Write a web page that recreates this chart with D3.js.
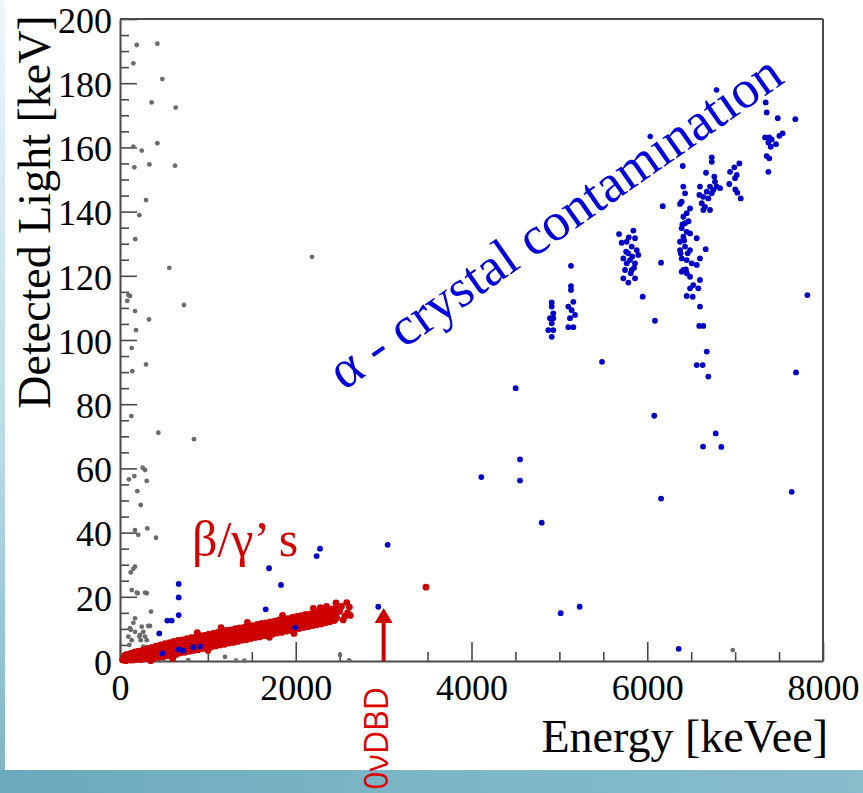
<!DOCTYPE html>
<html><head><meta charset="utf-8">
<script src="https://cdn.jsdelivr.net/npm/d3@7"></script>
<style>html,body{margin:0;padding:0;background:#fff;overflow:hidden}
.serif{font-family:"Liberation Serif","DejaVu Serif","Times New Roman",serif;}
.sans{font-family:"Open Sans","Noto Sans",sans-serif;}
</style>
</head><body>
<svg id="chart" width="863" height="793"></svg>
<script>
// ---- data ----
const xMajorTicks = [0, 2000, 4000, 6000, 8000];
const yMajorTicks = [0, 20, 40, 60, 80, 100, 120, 140, 160, 180, 200];
const xTitle = "Energy [keVee]";
const yTitle = "Detected Light [keV]";
const alphaLabel = "α - crystal contamination";
const betaLabel = "β/γ’ s";
const qLabel = "0νDBD";
const qValue = 3000;

const grayPts = [
[190,191.9],[425,192.3],[152,186.2],[482,181.3],[360,174.0],[634,172.4],[425,161.3],[152,160.2],[247,159.0],[163,153.8],[334,154.7],[626,154.3],[296,143.6],[220,138.9],[174,131.4],[561,122.5],[95,114.0],[114,113.7],[83,112.2],[728,110.9],[171,109.0],[330,106.4],[182,103.1],[133,97.5],[296,92.4],[140,90.3],[129,76.3],[436,71.1],[842,69.1],[258,60.2],[285,59.5],[163,57.6],[102,56.6],[304,56.1],[197,52.9],[236,48.6],[171,40.8],[208,39.3],[311,41.3],[410,38.4],[152,28.7],[122,27.6],[171,29.4],[133,22.1],[201,21.1],[285,21.3],[190,21.3],[304,21.1],[353,15.4],[152,11.9],[122,9.7],[171,9.1],[247,10.7],[265,9.1],[220,7.6],[285,7.6],[341,10.9],[95,7.6],[133,6.5],[236,6.5],[106,5.0],[114,10.2],[171,13.3],[322,10.9],[228,8.1],[304,6.5],[265,4.5],[190,2.9],[455,0.2],[493,0.3],[777,0.3],[1195,1.3],[1320,0.1],[1415,0.1],[2504,1.9],[2609,0.2],[6973,3.4],[2185,125.9]
];

const redPts = [
[30,0.3],[45,0.9],[52,1.6],[70,0.2],[85,1.1],[92,2.0],[110,0.4],[125,1.3],[132,2.4],[150,0.3],[165,1.6],[172,2.8],
[190,0.5],[205,1.8],[212,3.1],[240,0.4],[255,2.1],[262,3.4],[290,0.8],[305,2.2],[312,3.9],[340,0.6],[355,2.6],[362,4.2],
[390,1.0],[405,2.9],[412,4.6],[440,1.1],[455,3.2],[462,5.0],[490,1.4],[505,3.3],[512,5.4],[540,1.6],[555,3.8],[562,5.7],
[590,1.9],[605,4.0],[612,6.1],[640,2.0],[655,4.3],[662,6.4],[690,2.5],[705,4.6],[712,6.6],[740,2.7],[755,4.9],[762,7.0],
[790,3.0],[805,5.0],[812,7.3],[840,3.3],[855,5.5],[862,7.5],[890,3.5],[905,5.6],[912,7.9],[940,3.9],[955,6.0],[962,8.0],
[990,4.1],[1005,6.3],[1012,8.4],[1040,4.4],[1055,6.5],[1062,8.6],[1090,4.7],[1105,6.8],[1112,8.9],[1140,5.0],[1155,7.1],[1162,9.2],
[1190,5.2],[1205,7.4],[1212,9.5],[1240,5.6],[1255,7.6],[1262,9.7],[1290,5.8],[1305,8.0],[1312,10.1],[1340,6.1],[1355,8.2],[1362,10.3],
[1390,6.5],[1405,8.5],[1412,10.5],[1440,6.6],[1455,8.8],[1462,10.9],[1490,7.0],[1505,9.1],[1512,11.0],[1540,7.3],[1555,9.3],[1562,11.4],
[1590,7.5],[1605,9.6],[1612,11.7],[1640,7.9],[1655,9.9],[1662,11.9],[1690,8.1],[1705,10.2],[1712,12.2],[1740,8.4],[1755,10.5],[1762,12.4],
[1790,8.7],[1805,10.7],[1812,12.8],[1840,8.9],[1855,11.0],[1862,13.1],[1890,9.3],[1905,11.3],[1912,13.2],[1940,9.5],[1955,11.6],[1962,13.6],
[1990,9.8],[2005,11.9],[2012,13.9],[2040,10.1],[2055,12.1],[2062,14.1],[2090,10.4],[2105,12.4],[2112,14.5],[2140,10.7],[2155,12.7],[2162,14.6],
[2190,11.0],[2205,13.0],[2212,15.0],[2240,11.3],[2255,13.2],[2262,15.3],[2290,11.5],[2305,13.5],[2312,15.5],[2340,11.9],[2355,13.8],[2362,15.9],
[2390,12.2],[2405,14.1],[2412,16.2],[2440,12.6],[2455,14.5],[2462,16.4],
[65,0.1],[68,2.0],[115,0.3],[118,2.3],[165,0.5],[168,2.7],[215,0.8],[218,2.9],[265,1.1],[268,3.2],[315,1.3],[318,3.5],
[365,1.6],[368,3.8],[415,1.9],[418,4.0],[465,2.2],[468,4.3],[515,2.5],[518,4.6],[565,2.8],[568,4.9],[615,3.0],[618,5.1],
[665,3.3],[668,5.4],[715,3.6],[718,5.7],[765,3.9],[768,6.0],[815,4.2],[818,6.3],[865,4.4],[868,6.5],[915,4.7],[918,6.8],
[965,5.0],[968,7.1],[1015,5.3],[1018,7.4],[1065,5.6],[1068,7.7],[1115,5.8],[1118,7.9],[1165,6.1],[1168,8.2],[1215,6.4],[1218,8.5],
[1265,6.7],[1268,8.8],[1315,7.0],[1318,9.1],[1365,7.2],[1368,9.3],[1415,7.5],[1418,9.6],[1465,7.8],[1468,9.9],[1515,8.1],[1518,10.2],
[1565,8.4],[1568,10.5],[1615,8.6],[1618,10.7],[1665,8.9],[1668,11.0],[1715,9.2],[1718,11.3],[1765,9.5],[1768,11.6],[1815,9.8],[1818,11.9],
[1865,10.0],[1868,12.1],[1915,10.3],[1918,12.4],[1965,10.6],[1968,12.7],[2015,10.9],[2018,13.0],[2065,11.2],[2068,13.3],[2115,11.4],[2118,13.5],
[2165,11.7],[2168,13.8],[2215,12.0],[2218,14.1],[2265,12.3],[2268,14.4],[2315,12.6],[2318,14.7],[2365,12.8],[2368,14.9],[2415,13.1],[2418,15.2],
[2465,13.4],[2468,15.5],
[2458,18.1],[2580,18.2],[2610,16.8],[2590,15.0],[2620,14.2],[2560,14.0],[2500,15.5],[2520,17.0],[2540,12.8],[3482,23.0],
[1150,10.4],[1700,7.4],[2200,16.4],[880,8.8],[1450,12.0],[1980,8.6],[600,0.8],[350,0.1],[1000,3.3],[2350,17.0],[2280,16.6],[1850,14.2]
];

const bluePts = [
[7348,174.0],[7359,170.9],[7485,169.1],[7685,168.8],[7541,164.4],[7503,163.6],[7340,163.1],[7389,163.1],[7416,162.5],[7378,161.5],[7465,161.0],[7405,160.2],[7359,157.3],[7389,156.6],[7378,152.4],
[6734,156.9],[6734,155.5],[6669,152.1],[6942,152.4],[6991,153.8],[7048,155.0],[7018,151.4],[6999,150.4],[6934,148.6],[7002,146.9],[7025,145.9],[7064,144.1],
[6763,150.9],[6771,149.3],[6790,147.8],[6828,147.3],[6752,146.7],[6714,147.8],[6677,146.2],[6734,145.7],[6638,144.6],[6695,144.1],[6620,142.6],[6657,141.5],[6714,140.5],[6638,140.5],[6600,147.8],[6593,145.2],
[6404,154.2],[6410,147.8],[6430,145.7],[6392,143.1],[6373,142.4],[6176,141.7],
[6487,141.0],[6449,139.5],[6411,138.4],[6430,136.4],[6392,134.8],[6449,133.7],[6487,133.2],[6411,132.2],[6373,130.6],[6430,129.1],[6487,128.0],[6373,128.0],[6392,125.4],[6449,124.9],[6506,123.9],[6563,123.4],[6411,121.8],[6449,120.8],[6392,121.3],[6487,119.7],[6524,117.1],[6487,116.1],[6581,116.1],[6449,113.7],[6517,113.5],[6563,131.7],[6665,128.3],[6600,125.4],[6600,118.7],[6420,131.0],[6460,127.0],[6400,136.0],[6470,137.0],[6440,122.0],[6380,127.0],
[6157,124.1],[5948,113.5],[6088,106.0],[6600,110.4],[6592,104.4],[6638,104.4],[6677,96.4],[6563,92.2],[6631,92.2],[6695,88.6],[7822,114.0],[7693,89.9],[5485,93.2],[4503,85.0],
[5679,133.0],[5842,134.1],[5709,130.3],[5766,130.6],[5861,131.7],[5823,129.1],[5880,128.0],[5785,127.0],[5728,125.4],[5804,124.9],[5861,123.9],[5766,123.9],[5898,126.5],[5747,121.8],[5823,121.8],[5728,119.2],[5785,117.9],[5861,119.2],[5812,120.8],[5790,132.0],[5830,126.0],[5760,127.5],[5850,122.5],
[5132,123.1],[5132,116.8],[5132,115.6],[5159,111.9],[5102,110.4],[5140,109.3],[5178,107.8],[5121,106.8],[5102,104.0],[5159,104.0],
[4913,111.7],[4913,110.4],[4931,108.3],[4893,106.8],[4931,106.8],[4913,105.2],[4874,103.1],[4931,103.1],[4913,101.0],
[6080,76.4],[6779,70.9],[6635,66.8],[6843,66.7],[6157,50.6],[7644,52.7],
[4552,62.8],[4112,57.3],[4552,56.2],[4799,43.1],[3046,36.2],[2276,35.0],[2238,32.7],[1696,28.9],[1832,23.7],[1658,16.1],[1995,10.5],[2939,16.9],
[5015,14.9],[5231,16.9],[6358,3.8],
[668,24.0],[668,19.8],[668,14.3],[538,12.6],[588,12.6],[447,8.6],[481,2.4],[668,3.6],[720,3.2],[834,4.3],[910,4.5]
];

// ---- drawing ----
const W = 863, H = 793;
const svg = d3.select("#chart");

const defs = svg.append("defs");
const lg = defs.append("linearGradient").attr("id","leftStrip").attr("x1",0).attr("y1",0).attr("x2",0).attr("y2",1);
lg.append("stop").attr("offset","0%").attr("stop-color","#eef7fa");
lg.append("stop").attr("offset","60%").attr("stop-color","#b6d9e3");
lg.append("stop").attr("offset","100%").attr("stop-color","#7fb6c6");
const bg = defs.append("linearGradient").attr("id","bottomBand").attr("x1",0).attr("y1",0).attr("x2",1).attr("y2",0);
bg.append("stop").attr("offset","0%").attr("stop-color","#6aa9bb");
bg.append("stop").attr("offset","50%").attr("stop-color","#7db6c7");
bg.append("stop").attr("offset","100%").attr("stop-color","#88bdcc");

svg.append("rect").attr("width",W).attr("height",H).attr("fill","#fff");
svg.append("rect").attr("x",0).attr("y",0).attr("width",5).attr("height",770).attr("fill","url(#leftStrip)");
svg.append("rect").attr("x",0).attr("y",770).attr("width",W).attr("height",H-770).attr("fill","url(#bottomBand)");

const x = d3.scaleLinear().domain([0, 8000]).range([120, 823]);
const y = d3.scaleLinear().domain([0, 200]).range([661, 19]);

const axisColor = "#4a4a4a";

const xMinor = d3.range(0, 8001, 500).filter(v => v % 2000 !== 0);
const yMinor = d3.range(0, 201, 5).filter(v => v % 20 !== 0);

const gxMinor = svg.append("g").attr("transform", `translate(0,${y(0)})`)
  .call(d3.axisBottom(x).tickValues(xMinor).tickSize(-9).tickFormat(""));
const gyMinor = svg.append("g").attr("transform", `translate(${x(0)},0)`)
  .call(d3.axisLeft(y).tickValues(yMinor).tickSize(-9).tickFormat(""));
[gxMinor, gyMinor].forEach(g => { g.select(".domain").remove(); g.selectAll("line").attr("stroke", axisColor).attr("stroke-width", 1.6); });

const gx = svg.append("g").attr("transform", `translate(0,${y(0)})`)
  .call(d3.axisBottom(x).tickValues(xMajorTicks).tickSize(-19).tickSizeOuter(0).tickPadding(13).tickFormat(d3.format("d")));
const gy = svg.append("g").attr("transform", `translate(${x(0)},0)`)
  .call(d3.axisLeft(y).tickValues(yMajorTicks).tickSize(-17).tickSizeOuter(0).tickPadding(8).tickFormat(d3.format("d")));
[gx, gy].forEach(g => {
  g.attr("font-family", null).attr("font-size", null);
  g.select(".domain").attr("stroke", axisColor).attr("stroke-width", 2);
  g.selectAll("line").attr("stroke", axisColor).attr("stroke-width", 1.6);
  g.selectAll("text").attr("class", "serif").style("font-size", "36px").attr("fill", "#000");
});
gy.selectAll("text").attr("dy", "0.37em");
svg.append("line").attr("x1", x(0)).attr("x2", x(8000)).attr("y1", y(200)).attr("y2", y(200)).attr("stroke", axisColor).attr("stroke-width", 2);
svg.append("line").attr("x1", x(8000)).attr("x2", x(8000)).attr("y1", y(200)).attr("y2", y(0)).attr("stroke", axisColor).attr("stroke-width", 2);

const plot = svg.append("g");
plot.selectAll("circle.g").data(grayPts).join("circle").attr("class","g")
  .attr("cx", d => x(d[0])).attr("cy", d => y(d[1])).attr("r", 2.4).attr("fill", "#6b6b6b");
plot.selectAll("circle.r").data(redPts).join("circle").attr("class","r")
  .attr("cx", d => x(d[0])).attr("cy", d => y(d[1])).attr("r", 3.4).attr("fill", "#cc0000");
plot.selectAll("circle.b").data(bluePts).join("circle").attr("class","b")
  .attr("cx", d => x(d[0])).attr("cy", d => y(d[1])).attr("r", 2.9).attr("fill", "#0000c8");

svg.append("text").attr("class","serif").attr("x", 828).attr("y", 752).attr("text-anchor", "end")
  .style("font-size", "46px").attr("fill", "#000").text(xTitle);
svg.append("text").attr("class","serif").attr("transform", "translate(50,212) rotate(-90)").attr("text-anchor", "middle")
  .style("font-size", "46px").attr("fill", "#000").text(yTitle);

svg.append("text").attr("class","serif").attr("transform", "translate(344,391) rotate(-35)")
  .style("font-size", "54px").attr("fill", "#0000dd").text(alphaLabel);
svg.append("text").attr("class","serif").attr("x", 192).attr("y", 556)
  .style("font-size", "50px").attr("fill", "#d40000").text(betaLabel);

const ax = x(qValue);
svg.append("line").attr("x1", ax).attr("x2", ax).attr("y1", y(0)).attr("y2", y(12)).attr("stroke", "#cc0000").attr("stroke-width", 4);
svg.append("path").attr("d", `M${ax-9},${y(11.8)} L${ax+9},${y(11.8)} L${ax},${y(16.5)} Z`).attr("fill", "#cc0000");
svg.append("text").attr("class","sans").attr("transform", `translate(${ax+4},687) rotate(-90)`).attr("text-anchor", "end")
  .style("font-size", "32px").attr("fill", "#dd0000").text(qLabel);
</script>
</body></html>
